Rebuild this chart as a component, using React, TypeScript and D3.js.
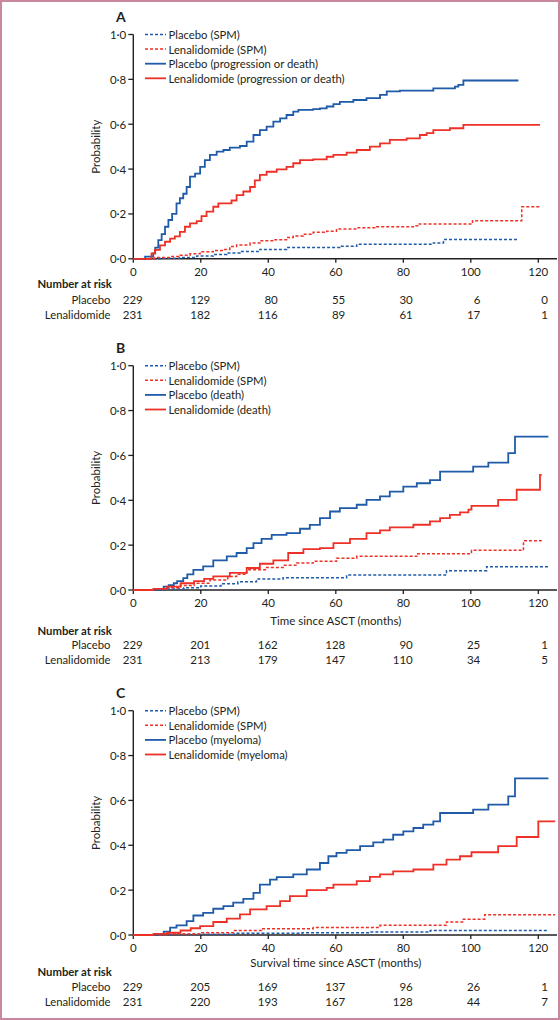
import React from "react";
import * as d3 from "d3";

// ---------- data ----------
const monthTicks = [0, 20, 40, 60, 80, 100, 120];
const probTicks = [0, 0.2, 0.4, 0.6, 0.8, 1.0];
const panelLetters = ["A", "B", "C"];
const xAxisTitles = ["", "Time since ASCT (months)", "Survival time since ASCT (months)"];
const riskGroups = ["Placebo", "Lenalidomide"];

const legendA = ["Placebo (SPM)", "Lenalidomide (SPM)", "Placebo (progression or death)", "Lenalidomide (progression or death)"];
const legendB = ["Placebo (SPM)", "Lenalidomide (SPM)", "Placebo (death)", "Lenalidomide (death)"];
const legendC = ["Placebo (SPM)", "Lenalidomide (SPM)", "Placebo (myeloma)", "Lenalidomide (myeloma)"];

const riskA_placebo = [229, 129, 80, 55, 30, 6, 0];
const riskA_lenalidomide = [231, 182, 116, 89, 61, 17, 1];
const riskB_placebo = [229, 201, 162, 128, 90, 25, 1];
const riskB_lenalidomide = [231, 213, 179, 147, 110, 34, 5];
const riskC_placebo = [229, 205, 169, 137, 96, 26, 1];
const riskC_lenalidomide = [231, 220, 193, 167, 128, 44, 7];

type P = [number, number];

const aPlaceboSPM: P[] = [[0,0],[8,0.003],[13.8,0.006],[18.8,0.012],[23.7,0.019],[27.7,0.026],[31.6,0.033],[37.5,0.042],[45.4,0.05],[61.2,0.056],[66.2,0.065],[88.9,0.071],[91.9,0.086],[114.1,0.086]];
const aLenaSPM: P[] = [[0,0],[6.4,0.006],[10.9,0.01],[13.8,0.016],[16.8,0.022],[19.8,0.031],[23.7,0.037],[26.7,0.042],[28.6,0.055],[30.6,0.062],[34.6,0.07],[37.5,0.08],[41.5,0.085],[45.4,0.095],[47.4,0.102],[50.4,0.11],[53.3,0.118],[57.3,0.123],[60.2,0.133],[66.2,0.138],[72.1,0.143],[83.0,0.147],[84.5,0.155],[100.5,0.17],[115.1,0.232],[120.5,0.232]];
const aPlaceboProg: P[] = [[0,0],[3.5,0.01],[5.9,0.024],[6.5,0.05],[7.4,0.083],[8.4,0.11],[9.4,0.143],[10.4,0.173],[11.5,0.2],[12.8,0.247],[13.8,0.27],[14.8,0.29],[15.8,0.32],[16.8,0.366],[18.3,0.38],[19.8,0.41],[21.2,0.44],[22.7,0.463],[24.7,0.478],[26.7,0.485],[28.6,0.496],[31.6,0.503],[33.6,0.522],[35.6,0.552],[37.5,0.574],[39.5,0.589],[41.5,0.612],[43.5,0.626],[45.4,0.641],[47.4,0.656],[48.9,0.664],[53.3,0.667],[55.3,0.671],[57.3,0.679],[59.3,0.69],[61.2,0.7],[65.2,0.708],[69.1,0.716],[73.1,0.731],[75.1,0.746],[79.0,0.75],[88.9,0.76],[95.3,0.768],[96.3,0.775],[97.8,0.795],[114.1,0.795]];
const aLenaProg: P[] = [[0,0],[5.4,0.024],[6.4,0.04],[7.9,0.06],[9.4,0.076],[10.9,0.09],[12.3,0.1],[13.8,0.12],[15.3,0.143],[16.8,0.158],[18.8,0.168],[20.2,0.19],[21.7,0.21],[23.7,0.232],[25.2,0.247],[29.1,0.26],[30.6,0.284],[32.6,0.3],[34.6,0.32],[36.0,0.35],[37.5,0.374],[39.5,0.388],[42.5,0.399],[45.4,0.41],[47.4,0.426],[49.4,0.44],[53.3,0.443],[57.3,0.455],[59.3,0.463],[63.2,0.473],[66.2,0.485],[70.1,0.5],[73.1,0.515],[76.0,0.53],[81.0,0.537],[84.9,0.552],[86.9,0.56],[88.9,0.574],[93.8,0.582],[97.8,0.597],[120.5,0.597]];

const bPlaceboSPM: P[] = [[0,0],[10,0.005],[15,0.01],[20,0.018],[26,0.028],[31,0.037],[36.5,0.049],[44.4,0.055],[63.2,0.067],[92.8,0.086],[104.7,0.104],[123,0.104]];
const bLenaSPM: P[] = [[0,0],[6,0.004],[10,0.01],[14,0.02],[18,0.03],[22.7,0.045],[28,0.06],[30.6,0.07],[33.6,0.09],[39.5,0.1],[44.4,0.11],[48.4,0.12],[53.3,0.128],[60.2,0.142],[66.2,0.15],[84.0,0.162],[100.2,0.177],[115.6,0.22],[121,0.22]];
const bPlaceboDeath: P[] = [[0,0],[7,0.005],[9,0.015],[10.5,0.022],[12,0.03],[13,0.04],[14.8,0.053],[16,0.07],[17.8,0.09],[20.7,0.105],[23.7,0.132],[27.7,0.15],[30.6,0.165],[33.6,0.187],[35.6,0.209],[38.0,0.228],[41.0,0.246],[45.4,0.254],[49.4,0.273],[52.3,0.29],[55.3,0.32],[58.3,0.35],[61.2,0.365],[66.2,0.38],[69.1,0.402],[73.1,0.417],[76.0,0.439],[80.0,0.461],[84.0,0.476],[87.9,0.49],[90.9,0.528],[100.7,0.55],[105.2,0.568],[111.1,0.61],[113.1,0.684],[123,0.684]];
const bLenaDeath: P[] = [[0,0],[6,0.005],[10,0.015],[14,0.03],[18,0.04],[21,0.05],[23.7,0.061],[28.6,0.076],[33.6,0.098],[37.5,0.117],[41.5,0.132],[45.9,0.165],[50.4,0.182],[55.3,0.187],[59.3,0.209],[64.2,0.228],[69.1,0.254],[73.1,0.266],[76.0,0.279],[83.0,0.291],[87.9,0.306],[90.9,0.32],[93.8,0.335],[96.8,0.346],[99.3,0.358],[100.2,0.375],[108.1,0.402],[113.6,0.447],[120.5,0.513],[121,0.513]];

const cPlaceboSPM: P[] = [[0,0],[10,0.003],[30,0.008],[50,0.01],[70,0.013],[88,0.02],[123,0.02]];
const cLenaSPM: P[] = [[0,0],[10,0.005],[20,0.01],[30,0.02],[38,0.028],[53.3,0.033],[73.1,0.043],[92.8,0.058],[97.8,0.07],[104.1,0.09],[125,0.09]];
const cPlaceboMyeloma: P[] = [[0,0],[7,0.005],[9,0.015],[10.9,0.033],[12.8,0.043],[15.8,0.062],[17.8,0.087],[20.7,0.099],[23.7,0.117],[26.7,0.129],[29.6,0.144],[32.6,0.161],[35.6,0.188],[37.5,0.225],[40.5,0.247],[42.5,0.258],[47.4,0.27],[51.4,0.292],[55.3,0.321],[57.8,0.351],[60.2,0.366],[63.2,0.378],[67.2,0.396],[71.1,0.413],[74.1,0.425],[77.0,0.447],[80.0,0.462],[83.0,0.477],[85.9,0.492],[88.9,0.507],[90.9,0.544],[100.7,0.559],[105.2,0.581],[111.1,0.618],[113.1,0.698],[123,0.698]];
const cLenaMyeloma: P[] = [[0,0],[6,0.005],[10,0.01],[14,0.02],[17,0.03],[19.8,0.04],[23.7,0.058],[27.7,0.073],[31.6,0.092],[34.6,0.114],[39.5,0.129],[43.5,0.151],[46.4,0.173],[51.4,0.2],[57.3,0.21],[59.3,0.225],[66.2,0.24],[70.1,0.259],[73.1,0.27],[77.0,0.284],[83.0,0.292],[88.9,0.314],[92.8,0.336],[96.8,0.351],[100.2,0.369],[108.1,0.396],[113.6,0.437],[120.0,0.507],[125,0.507]];

// ---------- styling / layout ----------
const BLUE = "#1f5ba8";
const RED = "#ed3127";
const INK = "#231f20";
const FONT = "Lato, 'Open Sans', sans-serif";

const panels = [
  { top: 34.5, legend: legendA, series: [aPlaceboSPM, aLenaSPM, aPlaceboProg, aLenaProg], risk: [riskA_placebo, riskA_lenalidomide], xTitleDy: 0, narY: 283, rowY: [299.5, 314] },
  { top: 365.7, legend: legendB, series: [bPlaceboSPM, bLenaSPM, bPlaceboDeath, bLenaDeath], risk: [riskB_placebo, riskB_lenalidomide], xTitleDy: 30.7, narY: 630, rowY: [644.5, 659] },
  { top: 710.7, legend: legendC, series: [cPlaceboSPM, cLenaSPM, cPlaceboMyeloma, cLenaMyeloma], risk: [riskC_placebo, riskC_lenalidomide], xTitleDy: 27.5, narY: 971.7, rowY: [986.5, 1001] },
];
const seriesStyle = [
  { color: BLUE, dash: "3,2", width: 1.5 },
  { color: RED, dash: "3,2", width: 1.5 },
  { color: BLUE, dash: null, width: 1.8 },
  { color: RED, dash: null, width: 1.8 },
];

const PH = 224.3;
const x = d3.scaleLinear().domain([0, 126]).range([133.3, 558.55]);
const fmt = (v: number) => d3.format(".1f")(v).replace(".", "\u00b7");

function Panel({ idx }: { idx: number }) {
  const p = panels[idx];
  const y = d3.scaleLinear().domain([0, 1]).range([p.top + PH, p.top]);
  const y0 = y(0);
  const line = d3.line<P>().x((d) => x(d[0])).y((d) => y(d[1])).curve(d3.curveStepAfter);
  const x0 = x(0);
  return (
    <g>
      <text x={116} y={p.top - 17.8} fontSize={14} fontWeight={700} dominantBaseline="central" fill={INK}>{panelLetters[idx]}</text>
      <line x1={x0} x2={x0} y1={y(1)} y2={y0} stroke={INK} strokeWidth={1.4} />
      {probTicks.map((t) => (
        <g key={t}>
          <line x1={x0 - 5} x2={x0} y1={y(t)} y2={y(t)} stroke={INK} strokeWidth={1.3} />
          <text x={x0 - 7} y={y(t)} textAnchor="end" dominantBaseline="central" fontSize={11.5} fill={INK}>{fmt(t)}</text>
        </g>
      ))}
      <text transform={`translate(95,${(y(1) + y0) / 2}) rotate(-90)`} textAnchor="middle" dominantBaseline="central" fontSize={11.5} fill={INK}>Probability</text>
      <line x1={x0} x2={557} y1={y0} y2={y0} stroke={INK} strokeWidth={1.4} />
      {monthTicks.map((t) => (
        <g key={t}>
          <line x1={x(t)} x2={x(t)} y1={y0} y2={y0 + 4} stroke={INK} strokeWidth={1.3} />
          <text x={x(t)} y={y0 + 12.3} textAnchor="middle" dominantBaseline="central" fontSize={11.5} fill={INK}>{t}</text>
        </g>
      ))}
      {xAxisTitles[idx] && (
        <text x={x(60)} y={y0 + p.xTitleDy} textAnchor="middle" dominantBaseline="central" fontSize={11.5} fill={INK}>{xAxisTitles[idx]}</text>
      )}
      {p.series.map((s, i) => (
        <path key={i} d={line(s) || ""} fill="none" stroke={seriesStyle[i].color} strokeWidth={seriesStyle[i].width} strokeDasharray={seriesStyle[i].dash || undefined} />
      ))}
      {p.legend.map((lab, i) => {
        const ly = p.top + i * 14.6;
        return (
          <g key={lab}>
            <line x1={145} x2={166} y1={ly} y2={ly} stroke={seriesStyle[i].color} strokeWidth={seriesStyle[i].width} strokeDasharray={seriesStyle[i].dash || undefined} />
            <text x={168.5} y={ly} dominantBaseline="central" fontSize={11.3} fill={INK}>{lab}</text>
          </g>
        );
      })}
      <text x={37.5} y={p.narY} dominantBaseline="central" fontSize={11.3} fontWeight={700} fill={INK}>Number at risk</text>
      {riskGroups.map((g, r) => (
        <g key={g}>
          <text x={110.5} y={p.rowY[r]} textAnchor="end" dominantBaseline="central" fontSize={11.3} fill={INK}>{g}</text>
          {p.risk[r].map((v, k) => (
            <text key={k} x={x(monthTicks[k]) + 9.5} y={p.rowY[r]} textAnchor="end" dominantBaseline="central" fontSize={11.5} fill={INK}>{v}</text>
          ))}
        </g>
      ))}
    </g>
  );
}

export default function App() {
  return (
    <svg width={560} height={1020} style={{ position: "absolute", left: 0, top: 0, display: "block", background: "#fff" }} fontFamily={FONT}>
      <rect x={0} y={0} width={560} height={1020} fill="#fff" />
      {panels.map((_, i) => (
        <Panel key={i} idx={i} />
      ))}
      <rect x={1} y={1} width={558} height={1018} fill="none" stroke="#c8879f" strokeWidth={2} />
    </svg>
  );
}
